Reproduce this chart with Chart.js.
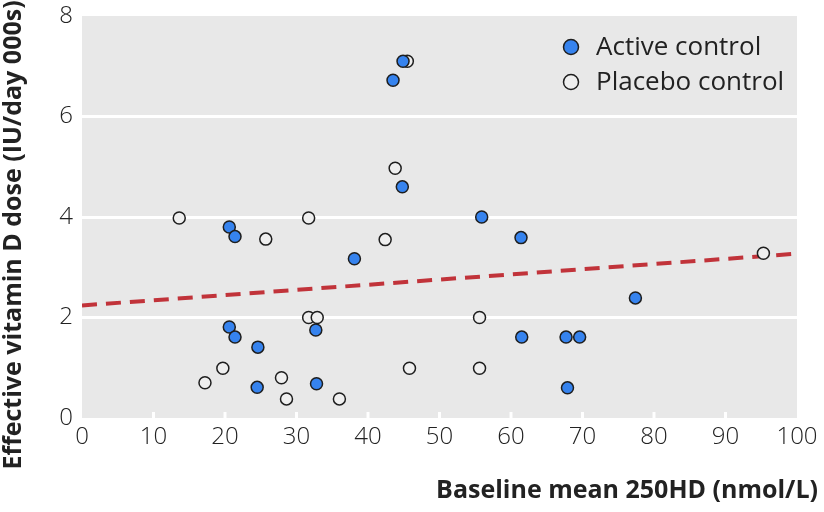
<!DOCTYPE html>
<html>
<head>
<meta charset="utf-8">
<script src="https://cdn.jsdelivr.net/npm/chart.js@4.4.1/dist/chart.umd.min.js"></script>
<style>
  html, body { margin: 0; padding: 0; background: #fff; }
  #wrap { width: 824px; height: 512px; }
</style>
</head>
<body>
<div id="wrap"><canvas id="grafico" width="824" height="512"></canvas></div>
<script>
// Datos
const activoX = [44.9, 43.5, 44.8, 20.6, 21.4, 38.1, 20.6, 21.4, 24.6, 32.7, 24.5, 32.8, 55.9, 61.4, 77.4, 61.5, 67.7, 69.6, 67.9];
const activoY = [7.1, 6.72, 4.6, 3.8, 3.61, 3.17, 1.81, 1.61, 1.41, 1.75, 0.61, 0.68, 4.0, 3.59, 2.39, 1.61, 1.61, 1.61, 0.6];
const placeboX = [45.5, 43.8, 13.6, 31.7, 25.7, 42.4, 31.7, 32.9, 19.7, 17.2, 27.9, 28.6, 36.0, 45.8, 55.6, 55.6, 95.3];
const placeboY = [7.1, 4.97, 3.98, 3.98, 3.56, 3.55, 2.0, 2.0, 0.99, 0.7, 0.8, 0.38, 0.38, 0.99, 2.0, 0.99, 3.28];
const tendenciaX = [0, 100];
const tendenciaY = [2.24, 3.27];

const leyenda = ['Active control', 'Placebo control'];
const tituloX = 'Baseline mean 250HD (nmol/L)';
const tituloY = 'Effective vitamin D dose (IU/day 000s)';

const azul = '#3683ee';
const blanco = '#efefef';
const borde = '#1e1e1e';
const fuente = "'Open Sans', 'Noto Sans', sans-serif";

const aPuntos = (xs, ys) => xs.map((x, i) => ({ x: x, y: ys[i] }));

// fondo gris, marcas internas del eje x, leyenda y títulos
const extras = {
    id: 'extras',
    beforeDraw(chart) {
        const { ctx, chartArea: a } = chart;
        ctx.save();
        ctx.fillStyle = '#e8e8e8';
        ctx.fillRect(a.left, a.top, a.right - a.left, a.bottom - a.top);
        ctx.restore();
    },
    beforeDatasetsDraw(chart) {
        const { ctx, chartArea: a, scales } = chart;
        ctx.save();
        ctx.strokeStyle = '#ffffff';
        ctx.lineWidth = 3;
        for (let v = 10; v < 100; v += 10) {
            const px = scales.x.getPixelForValue(v);
            ctx.beginPath();
            ctx.moveTo(px, a.bottom);
            ctx.lineTo(px, a.bottom - 6);
            ctx.stroke();
        }
        ctx.restore();
    },
    afterDraw(chart) {
        const { ctx } = chart;
        ctx.save();
        // leyenda
        const colores = [azul, blanco];
        ctx.font = '26px ' + fuente;
        ctx.textBaseline = 'middle';
        leyenda.forEach((t, i) => {
            const y = 47 + i * 35;
            ctx.beginPath();
            ctx.arc(571, y, 7.5, 0, Math.PI * 2);
            ctx.fillStyle = colores[i];
            ctx.fill();
            ctx.lineWidth = 1.5;
            ctx.strokeStyle = borde;
            ctx.stroke();
            ctx.fillStyle = '#222';
            ctx.textAlign = 'left';
            ctx.fillText(t, 596, y + 1);
        });
        // títulos de ejes
        ctx.font = 'bold 25px ' + fuente;
        ctx.fillStyle = '#222';
        ctx.textAlign = 'right';
        ctx.fillText(tituloX, 818, 491);
        ctx.translate(14, 235);
        ctx.rotate(-Math.PI / 2);
        ctx.textAlign = 'center';
        ctx.fillText(tituloY, 0, 0);
        ctx.restore();
    }
};

const configDispersion = {
    data: {
        datasets: [
            {
                type: 'scatter',
                label: leyenda[0],
                data: aPuntos(activoX, activoY),
                backgroundColor: azul,
                borderColor: borde,
                borderWidth: 1.5,
                pointRadius: 6,
                order: 1
            },
            {
                type: 'scatter',
                label: leyenda[1],
                data: aPuntos(placeboX, placeboY),
                backgroundColor: blanco,
                borderColor: borde,
                borderWidth: 1.5,
                pointRadius: 6,
                order: 1
            },
            {
                type: 'line',
                label: 'Tendencia',
                data: aPuntos(tendenciaX, tendenciaY),
                borderColor: '#c1333a',
                borderWidth: 4,
                borderDash: [15, 9],
                pointRadius: 0,
                fill: false,
                order: 3
            }
        ]
    },
    options: {
        responsive: false,
        animation: false,
        layout: { padding: { left: 0, right: 27, top: 16, bottom: 0 } },
        plugins: {
            legend: { display: false },
            tooltip: { enabled: false }
        },
        scales: {
            x: {
                type: 'linear',
                min: 0,
                max: 100,
                ticks: { stepSize: 10, padding: 5, color: '#222', font: { family: fuente, size: 24, weight: '300' } },
                grid: { display: false, drawTicks: false },
                border: { display: false },
                afterFit(s) { s.height = 94; }
            },
            y: {
                min: 0,
                max: 8,
                ticks: { stepSize: 2, padding: 9, color: '#222', font: { family: fuente, size: 24, weight: '300' } },
                grid: {
                    drawTicks: false,
                    lineWidth: 3,
                    color: (c) => (c.tick && c.tick.value > 0 && c.tick.value < 8) ? '#ffffff' : 'rgba(0,0,0,0)'
                },
                border: { display: false },
                afterFit(s) { s.width = 82; s.paddingTop = 0; s.paddingBottom = 0; }
            }
        }
    },
    plugins: [extras]
};

new Chart(document.getElementById('grafico'), configDispersion);
</script>
</body>
</html>
